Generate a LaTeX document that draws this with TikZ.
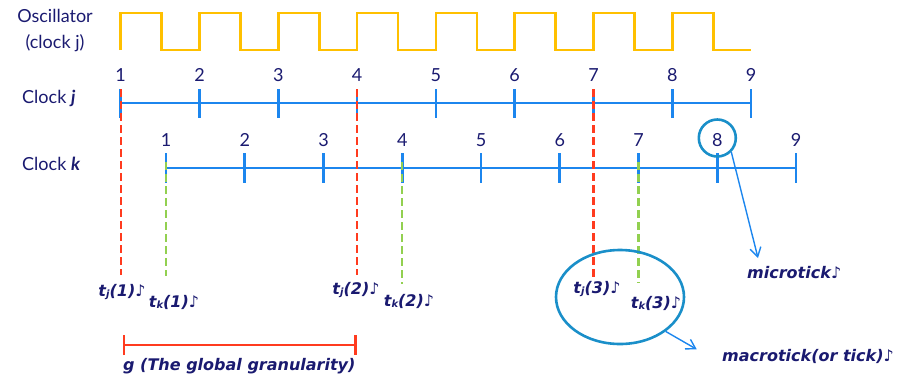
\documentclass[tikz,border=0pt]{standalone}
\usepackage{fontspec}
\setmainfont{Lato}
\newfontfamily\notefont{DejaVu Sans}
\usetikzlibrary{arrows.meta,shapes.geometric}
\definecolor{navy}{HTML}{1A1A70}
\definecolor{oscy}{HTML}{FFC000}
\definecolor{axisb}{HTML}{1C86EE}
\definecolor{redd}{HTML}{FF3B1F}
\definecolor{greend}{HTML}{92D050}
\definecolor{ringb}{HTML}{1A8FC9}
\newcommand{\nt}{♪}
\newcommand{\sbs}[1]{\raisebox{-1pt}{\fontsize{10}{10}\selectfont #1}}
\tikzset{
  osc/.style={draw=oscy, line width=2.6pt, line join=miter},
  axisline/.style={draw=axisb, line width=2.6pt},
  ticklab/.style={text=navy, font=\fontsize{18}{20}\selectfont, inner sep=0pt},
  title/.style={text=navy, font=\fontsize{18}{26}\selectfont, inner sep=0pt, align=center},
  reddash/.style={draw=redd, line width=2.4pt, dash pattern=on 8pt off 4pt},
  greendash/.style={draw=greend, line width=2.4pt, dash pattern=on 8pt off 4pt},
  tlab/.style={text=navy, font=\notefont\fontsize{16}{18}\selectfont\bfseries\itshape, inner sep=0pt},
  note/.style={text=navy, font=\notefont\fontsize{16}{18}\selectfont\bfseries\itshape, inner sep=0pt},
  ring/.style={draw=ringb, line width=2.6pt},
  pointer/.style={draw=axisb, line width=1.4pt, -{Straight Barb[length=9pt,width=11pt,line width=1.4pt]}},
}
\begin{document}
\begin{tikzpicture}[x=1pt,y=-1pt]
\useasboundingbox (0,0) rectangle (901,381);

% oscillator
\node[title] (osclab) at (55,31) {Oscillator\\(clock j)};
\draw[osc] (120.7,50)
  \foreach \i in {0,...,7} { -- ({120.7+78.8*\i},50) -- ({120.7+78.8*\i},13) -- ({161.7+78.8*\i},13) -- ({161.7+78.8*\i},50) }
  -- (751,50);

% clock j
\node[title, anchor=west] (clkj) at (22,98) {Clock \textbf{\textit{j}}};
\foreach \i in {1,...,9} {
  \pgfmathsetmacro{\xx}{120.7+78.8*(\i-1)}
  \coordinate (jtop\i) at (\xx,89);
  \coordinate (jbot\i) at (\xx,118);
  \coordinate (jm\i) at (\xx,103);
  \node[ticklab] (jl\i) at (\xx,75) {\i};
}
\draw[axisline] (jm1) -- (jm9);
\foreach \i in {1,...,9} { \draw[axisline] (jtop\i) -- (jbot\i); }

% clock k
\node[title, anchor=west] (clkk) at (22,164) {Clock \textbf{\textit{k}}};
\foreach \i in {1,...,9} {
  \pgfmathsetmacro{\xx}{166+78.75*(\i-1)}
  \coordinate (ktop\i) at (\xx,153);
  \coordinate (kbot\i) at (\xx,183);
  \coordinate (km\i) at (\xx,168);
  \coordinate (kg\i) at (\xx,162);
  \node[ticklab] (kl\i) at (\xx,140) {\i};
}
\draw[axisline] (km1) -- (km9);
\foreach \i in {1,...,9} { \draw[axisline] (ktop\i) -- (kbot\i); }

% dashed markers
\coordinate (rb1) at (120.7,275);
\coordinate (rb4) at (357.1,275);
\coordinate (rb7) at (593.5,277);
\coordinate (gb1) at (166,276);
\coordinate (gb4) at (402.25,284);
\coordinate (gb7) at (638.5,283);
\draw[reddash] (jtop1) -- (rb1);
\draw[reddash] (jtop4) -- (rb4);
\draw[reddash] (jtop7) -- (rb7);
\draw[greendash] (kg1) -- (gb1);
\draw[greendash] (kg4) -- (gb4);
\draw[greendash] (kg7) -- (gb7);

% time labels
\node[tlab] (tj1) at (122,292) {t\sbs{j}(1)\nt};
\node[tlab] (tk1) at (174,302) {t\sbs{k}(1)\nt};
\node[tlab] (tj2) at (356,290) {t\sbs{j}(2)\nt};
\node[tlab] (tk2) at (409,301) {t\sbs{k}(2)\nt};
\node[tlab] (tj3) at (597,289) {t\sbs{j}(3)\nt};
\node[tlab] (tk3) at (656,303) {t\sbs{k}(3)\nt};

% granularity bracket
\coordinate (ga) at (122.7,345);
\coordinate (gz) at (356.7,345);
\draw[draw=redd, line width=2.4pt, {Bar[width=20pt,line width=2.4pt]}-{Bar[width=20pt,line width=2.4pt]}] (ga) -- (gz);
\node[note, anchor=west] (glab) at (123,366) {g (The global granularity)};

% microtick
\node[ring, circle, minimum size=37pt, inner sep=0pt] (circ8) at (717.3,138) {};
\coordinate (mtip) at (758,258);
\draw[pointer] (circ8.-45) -- (mtip);
\node[note, anchor=west] (micro) at (747,273) {microtick\nt};

% macrotick
\node[ring, ellipse, minimum width=128pt, minimum height=94pt, inner sep=0pt] (macro) at (620,297) {};
\coordinate (Mtip) at (696.7,349.3);
\draw[pointer] (macro.-37) -- (Mtip);
\node[note, anchor=west] (macrol) at (722,356) {macrotick(or tick)\nt};
\end{tikzpicture}
\end{document}
